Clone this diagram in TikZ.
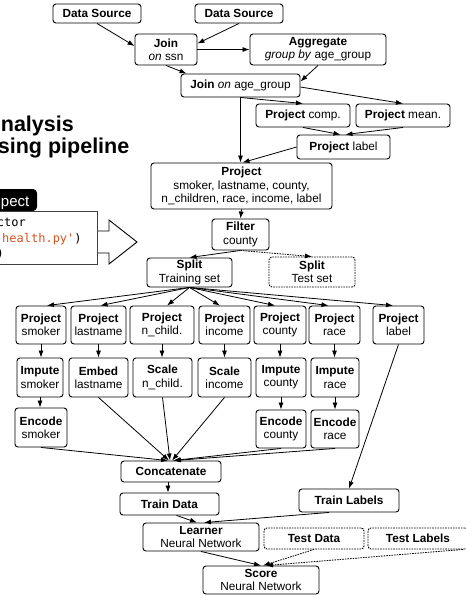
\documentclass[tikz,border=0pt]{standalone}
\usepackage{fontspec}
\setmainfont{Liberation Sans}
\newfontfamily\codefont{DejaVu Sans Mono}
\usetikzlibrary{arrows.meta}
\definecolor{codeorange}{RGB}{214,84,36}
\begin{document}
\begin{tikzpicture}[x=1pt,y=-1pt,
  box/.style={draw, line width=0.9pt, rounded corners=3pt, fill=white, inner sep=0pt, align=center, font=\fontsize{11.8}{13.3}\selectfont},
  dbox/.style={box, dash pattern=on 1.6pt off 1pt},
  arr/.style={-{Latex[length=7pt,width=5pt]}, line width=0.8pt},
  darr/.style={arr, dash pattern=on 1.6pt off 1pt},
  titletext/.style={anchor=base east, font=\fontsize{21.5}{25}\selectfont\bfseries, inner sep=0pt},
  codetext/.style={font=\codefont\fontsize{12}{16}\selectfont, inner sep=0pt},
]
\useasboundingbox (0,0) rectangle (466,595);

% left side (cropped) elements
\node[titletext] (t1) at (74,131) {nalysis};
\node[titletext] (t2) at (129.5,153) {sing pipeline};
\fill[black, rounded corners=4pt] (-10,189) rectangle (37,211);
\node[anchor=base east, text=white, font=\fontsize{15}{18}\selectfont, inner sep=0pt] (tab) at (29.5,206) {pect};
\draw[line width=0.9pt, fill=white] (97,231) -- (109,231) -- (109,220) -- (137,242) -- (109,264) -- (109,253) -- (97,253);
\draw[line width=0.9pt, draw=black!75, fill=white] (-10,211) rectangle (97,264);
\node[codetext, anchor=base east] (c1) at (26,226) {ctor};
\node[codetext, anchor=base west] (c2) at (2,242) {\textcolor{codeorange}{health.py'})};
\node[codetext, anchor=base west] (c3) at (-3.5,257) {)};

% top part
\node[box,minimum width=88,minimum height=19] (ds1) at (97,13.5) {\textbf{Data Source}};
\node[box,minimum width=88,minimum height=19] (ds2) at (239,13.5) {\textbf{Data Source}};
\node[box,minimum width=62,minimum height=31] (joinssn) at (166,49.5) {\textbf{Join}\\\textit{on} ssn};
\node[box,minimum width=136,minimum height=31] (agg) at (318,49.5) {\textbf{Aggregate}\\\textit{group by} age\_group};
\node[box,minimum width=119,minimum height=23] (joinage) at (240.5,85.5) {\textbf{Join} \textit{on} age\_group};
\node[box,minimum width=94,minimum height=23] (comp) at (303,115.5) {\textbf{Project} comp.};
\node[box,minimum width=94,minimum height=23] (mean) at (403,115.5) {\textbf{Project} mean.};
\node[box,minimum width=93,minimum height=24] (plabel) at (343.5,147) {\textbf{Project} label};
\node[box,minimum width=181,minimum height=46] (proj) at (241.5,186) {\textbf{Project}\\smoker, lastname, county,\\n\_children, race, income, label};
\node[box,minimum width=57,minimum height=31] (filter) at (240.5,234.5) {\textbf{Filter}\\county};
\node[box,minimum width=85,minimum height=29] (splittr) at (189.5,272.5) {\textbf{Split}\\Training set};
\node[dbox,minimum width=86,minimum height=30] (splitte) at (312,272) {\textbf{Split}\\Test set};

% row 1
\node[box,minimum width=50,minimum height=38] (psmoker) at (41,325) {\textbf{Project}\\smoker};
\node[box,minimum width=55,minimum height=38] (plast) at (98.5,325) {\textbf{Project}\\lastname};
\node[box,minimum width=64,minimum height=38] (pnch) at (162,325) {\textbf{Project}\\n\_child.};
\node[box,minimum width=51,minimum height=38] (pinc) at (224.5,325) {\textbf{Project}\\income};
\node[box,minimum width=52,minimum height=38] (pcounty) at (280,325) {\textbf{Project}\\county};
\node[box,minimum width=51,minimum height=38] (prace) at (334.5,325) {\textbf{Project}\\race};
\node[box,minimum width=51,minimum height=38] (plab) at (398.5,325) {\textbf{Project}\\label};

% row 2
\node[box,minimum width=46,minimum height=39] (ismoker) at (40,377.5) {\textbf{Impute}\\smoker};
\node[box,minimum width=59,minimum height=39] (embed) at (98.5,377.5) {\textbf{Embed}\\lastname};
\node[box,minimum width=59,minimum height=39] (snch) at (162.5,377.5) {\textbf{Scale}\\n\_child.};
\node[box,minimum width=53,minimum height=39] (sinc) at (224.5,377.5) {\textbf{Scale}\\income};
\node[box,minimum width=50,minimum height=39] (icounty) at (281,377.5) {\textbf{Impute}\\county};
\node[box,minimum width=48,minimum height=39] (irace) at (335,377.5) {\textbf{Impute}\\race};

% row 3
\node[box,minimum width=52,minimum height=39] (esmoker) at (41,427.5) {\textbf{Encode}\\smoker};
\node[box,minimum width=50,minimum height=38] (ecounty) at (281,429) {\textbf{Encode}\\county};
\node[box,minimum width=48,minimum height=38] (erace) at (335,429) {\textbf{Encode}\\race};

% bottom part
\node[box,minimum width=100,minimum height=21] (concat) at (171,471.5) {\textbf{Concatenate}};
\node[box,minimum width=99,minimum height=22] (traindata) at (169.5,504) {\textbf{Train Data}};
\node[box,minimum width=100,minimum height=23] (trainlabels) at (349,500.5) {\textbf{Train Labels}};
\node[box,minimum width=116,minimum height=28] (learner) at (201,537) {\textbf{Learner}\\Neural Network};
\node[dbox,minimum width=100,minimum height=21] (testdata) at (314,538.5) {\textbf{Test Data}};
\node[dbox,minimum width=100,minimum height=21] (testlabels) at (418,538.5) {\textbf{Test Labels}};
\node[box,minimum width=116,minimum height=28] (score) at (261,580) {\textbf{Score}\\Neural Network};

% connectors top
\draw[arr] (ds1.south) -- ([yshift=3.5pt]joinssn.west);
\draw[arr] (ds2.south) -- ([yshift=6pt]joinssn.east);
\draw[arr] (joinssn.east) -- (agg.west);
\draw[arr] (joinssn.south) -- ([xshift=6pt]joinage.north west);
\draw[arr] (agg.south) -- ([yshift=4pt]joinage.east);
\draw[arr] (joinage.south) -- (comp.north);
\draw[arr] ([yshift=-1.5pt]joinage.east) -- (mean.north);
\draw[arr] (joinage.south) -- (joinage.south |- proj.north);
\draw[arr] (comp.south) -- ([xshift=-3pt]plabel.north);
\draw[arr] (mean.south) -- ([xshift=2pt]plabel.north);
\draw[arr] (plabel.west) -- ([xshift=1pt]proj.north);
\draw[arr] (proj.south) -- (filter.north);
\draw[arr] (filter.south) -- (splittr.north);
\draw[darr] (filter.south) -- (splitte.north);

% split to row 1
\draw[arr] (splittr.south) -- ([xshift=6pt]psmoker.north);
\draw[arr] (splittr.south) -- ([xshift=2pt]plast.north);
\draw[arr] (splittr.south) -- ([xshift=5pt]pnch.north);
\draw[arr] (splittr.south) -- ([xshift=-4.5pt]pinc.north);
\draw[arr] (splittr.south) -- ([xshift=-5pt]pcounty.north);
\draw[arr] (splittr.south) -- ([xshift=-6pt]prace.north);
\draw[arr] (splittr.south) -- ([xshift=-5.5pt]plab.north);

% row 1 to row 2
\draw[arr] (psmoker.south) -- (psmoker.south |- ismoker.north);
\draw[arr] (plast.south) -- (embed.north);
\draw[arr] (pnch.south) -- (pnch.south |- snch.north);
\draw[arr] (pinc.south) -- (sinc.north);
\draw[arr] (pcounty.south) -- (pcounty.south |- icounty.north);
\draw[arr] (prace.south) -- (prace.south |- irace.north);

% row 2 to row 3
\draw[arr] (ismoker.south) -- (ismoker.south |- esmoker.north);
\draw[arr] (icounty.south) -- (ecounty.north);
\draw[arr] (irace.south) -- (erace.north);

% to concatenate
\draw[arr] (esmoker.south) -- ([xshift=-3pt]concat.north);
\draw[arr] (embed.south) -- ([xshift=-2pt]concat.north);
\draw[arr] (snch.south) -- ([xshift=-1pt]concat.north);
\draw[arr] (sinc.south) -- ([xshift=1pt]concat.north);
\draw[arr] (ecounty.south) -- ([xshift=2pt]concat.north);
\draw[arr] (erace.south) -- ([xshift=3pt]concat.north);

% bottom connectors
\draw[arr] ([xshift=-3pt]concat.south) -- ([xshift=-1.5pt]traindata.north);
\draw[arr] (plab.south) -- (trainlabels.north);
\draw[arr] ([xshift=7pt]traindata.south) -- ([xshift=-4pt]learner.north);
\draw[arr] ([xshift=-20pt]trainlabels.south) -- ([xshift=3pt]learner.north);
\draw[arr] (learner.south) -- (score.north);
\draw[darr] (testdata.south) -- ([xshift=2pt]score.north);
\draw[darr] ([xshift=45pt]testlabels.south) -- ([xshift=5pt]score.north);
\end{tikzpicture}
\end{document}
